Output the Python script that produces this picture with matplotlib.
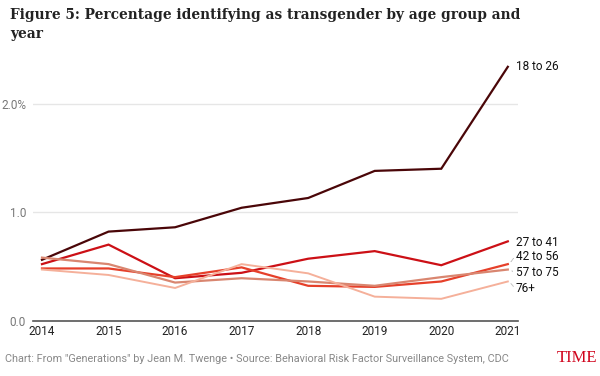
import matplotlib.pyplot as plt

# data (percent identifying as transgender)
years = [2014, 2015, 2016, 2017, 2018, 2019, 2020, 2021]
groups = ["18 to 26", "27 to 41", "42 to 56", "57 to 75", "76+"]
age_18_26 = [0.56, 0.82, 0.86, 1.04, 1.13, 1.38, 1.40, 2.34]
age_27_41 = [0.52, 0.70, 0.39, 0.44, 0.57, 0.64, 0.51, 0.73]
age_42_56 = [0.48, 0.48, 0.40, 0.49, 0.32, 0.31, 0.36, 0.52]
age_57_75 = [0.58, 0.52, 0.35, 0.39, 0.36, 0.32, 0.40, 0.47]
age_76_up = [0.47, 0.42, 0.30, 0.52, 0.435, 0.22, 0.20, 0.36]
series = [age_18_26, age_27_41, age_42_56, age_57_75, age_76_up]

colors = ["#4a0608", "#cc1016", "#e6402a", "#d98670", "#f5b09a"]
label_dy = [0, 1, -8, 3, 7]   # pixel nudges for end labels

plt.rcParams['font.family'] = ['Roboto', 'DejaVu Sans']

fig = plt.figure(figsize=(6, 3.76), dpi=100)
ax = fig.add_axes([0.055, 0.1476, 0.808, 0.692])

for vals, c, name, dy in zip(series, colors, groups, label_dy):
    ax.plot(years, vals, color=c, lw=1.6 if c != colors[-1] else 1.4,
            solid_joinstyle='miter', zorder=3)
    ax.annotate(name, xy=(years[-1], vals[-1]), xytext=(8, -dy),
                textcoords='offset pixels', ha='left', va='center',
                fontsize=8.5, color='#111111')
    if dy != 0 and name != "27 to 41":
        ax.annotate('', xy=(years[-1] + 0.02, vals[-1]), xytext=(6, -dy),
                    textcoords='offset pixels',
                    arrowprops=dict(arrowstyle='-', color='#aaaaaa', lw=0.6,
                                    linestyle=(0, (1, 1))))

ax.set_xlim(2013.865, 2021.15)
ax.set_ylim(0, 2.40)
ax.set_xticks(years)
ax.set_xticklabels([str(y) for y in years], fontsize=8.5, color='#222222')
ax.set_yticks([0, 1, 2])
ax.set_yticklabels(["0.0", "1.0", "2.0%"], fontsize=8.5, color='#777777')
ax.tick_params(length=0, pad=3)
ax.tick_params(axis='y', pad=5)
for y in [1, 2]:
    ax.axhline(y, color='#e6e6e6', lw=1, zorder=1)
ax.axhline(0, color='#555555', lw=1.2, zorder=2, clip_on=False)
for s in ax.spines.values():
    s.set_visible(False)

fig.text(0.017, 0.978, "Figure 5: Percentage identifying as transgender by age group and\nyear",
         ha='left', va='top', fontsize=9.9, fontweight='bold',
         family='DejaVu Serif', color='#222222', linespacing=1.45)
fig.text(0.008, 0.037, 'Chart: From "Generations" by Jean M. Twenge \u2022 Source: Behavioral Risk Factor Surveillance System, CDC',
         ha='left', va='baseline', fontsize=7.8, color='#888888')
fig.text(0.995, 0.037, "TIME", ha='right', va='baseline', fontsize=12,
         family='Liberation Serif', color='#d0021b')

fig.savefig("out.png", dpi=100)
